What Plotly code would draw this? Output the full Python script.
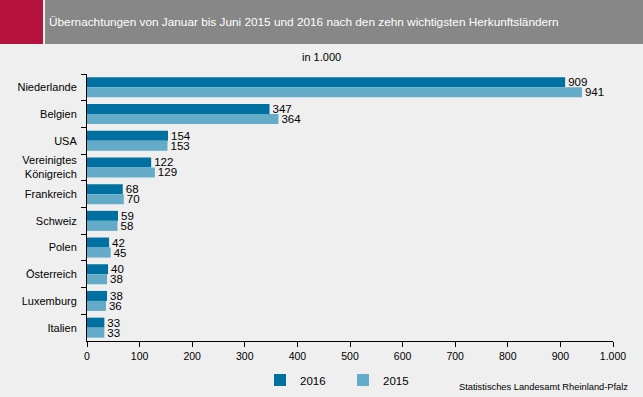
import plotly.graph_objects as go

countries = ["Niederlande", "Belgien", "USA", "Vereinigtes<br>Königreich", "Frankreich",
             "Schweiz", "Polen", "Österreich", "Luxemburg", "Italien"]
v2016 = [909, 347, 154, 122, 68, 59, 42, 40, 38, 33]
v2015 = [941, 364, 153, 129, 70, 58, 45, 38, 36, 33]
xticks = [0, 100, 200, 300, 400, 500, 600, 700, 800, 900, 1000]

C16 = "#0070a0"
C15 = "#64abc8"
BG = "#eeefee"
FONT = "Liberation Sans, Arial, sans-serif"
W, H = 643, 397

# pixel helpers -> paper coords (plot area x:87..613, y:74..341)
L, R, T, B = 87, 613, 74, 341
def px(x):
    return (x - L) / (R - L)
def py(y):
    return (B - y) / (B - T)

fig = go.Figure()
fig.add_trace(go.Bar(y=countries, x=v2016, name="2016", orientation="h",
                     marker_color=C16, text=v2016, textposition="outside",
                     constraintext="none",
                     textfont=dict(size=11.5, color="#000"), cliponaxis=False))
fig.add_trace(go.Bar(y=countries, x=v2015, name="2015", orientation="h",
                     marker_color=C15, text=v2015, textposition="outside",
                     constraintext="none",
                     textfont=dict(size=11.5, color="#000"), cliponaxis=False))

fig.update_layout(
    template="none",
    width=W, height=H,
    margin=dict(l=L, r=W - R, t=T, b=H - B, autoexpand=False),
    paper_bgcolor=BG, plot_bgcolor=BG,
    font=dict(family=FONT, size=11, color="#000"),
    barmode="group", bargap=0.25, bargroupgap=0,
    separators=",.",
    showlegend=True,
    legend=dict(orientation="h", xref="container", yref="container",
                x=260 / W, xanchor="left", y=1 - 380 / H, yanchor="middle",
                font=dict(size=11.5), itemwidth=30, entrywidth=38, bgcolor="rgba(0,0,0,0)",
                traceorder="normal"),
    shapes=[
        dict(type="rect", xref="paper", yref="paper", x0=px(0), x1=px(43), y0=py(44), y1=py(0),
             fillcolor="#b5123e", line_width=0, layer="below"),
        dict(type="rect", xref="paper", yref="paper", x0=px(45), x1=px(643), y0=py(44), y1=py(0),
             fillcolor="#878787", line_width=0, layer="below"),
    ],
    annotations=[
        dict(text="Übernachtungen von Januar bis Juni 2015 und 2016 nach den zehn wichtigsten Herkunftsländern",
             xref="paper", yref="paper", x=px(47), y=py(22), xanchor="left", yanchor="middle",
             showarrow=False, font=dict(size=11.8, color="white")),
        dict(text="in 1.000", xref="paper", yref="paper", x=px(321), y=py(57),
             xanchor="center", yanchor="middle", showarrow=False, font=dict(size=11)),
        dict(text="Statistisches Landesamt Rheinland-Pfalz", xref="paper", yref="paper",
             x=px(630), y=py(387), xanchor="right", yanchor="middle", showarrow=False,
             font=dict(size=9.3)),
    ],
)
fig.update_xaxes(range=[0, 1000], tickvals=xticks, tickformat=",d", ticks="outside", ticklen=5,
                 tickcolor="#000", showline=True, linecolor="#000", linewidth=1,
                 showgrid=False, zeroline=False, tickfont=dict(size=10.5), automargin=False)
fig.update_yaxes(autorange="reversed", ticks="outside", tickson="boundaries", ticklen=5,
                 tickcolor="#000", showline=True, linecolor="#000", linewidth=1,
                 showgrid=False, zeroline=False, tickfont=dict(size=11), ticklabelstandoff=7,
                 automargin=False)

fig.write_html("out.html", config={"displayModeBar": False},
               post_script="document.body.style.margin='0';")
